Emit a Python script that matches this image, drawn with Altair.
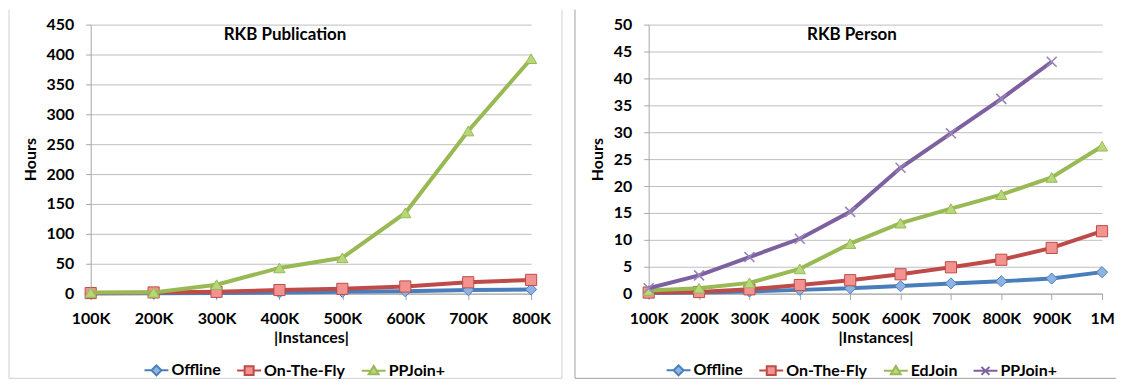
import altair as alt
import pandas as pd

FONT = "Lato"

# ---- data: RKB Publication ----
cats_pub = ["100K", "200K", "300K", "400K", "500K", "600K", "700K", "800K"]
series_pub = ["Offline", "On-The-Fly", "PPJoin+"]
pub_offline = [0.3, 0.5, 1, 2, 3, 4, 6, 7]
pub_otf = [1, 2, 3, 6, 8, 12, 19, 23]
pub_ppjoin = [2, 2, 15, 43, 60, 135, 272, 393]

# ---- data: RKB Person ----
cats_per = ["100K", "200K", "300K", "400K", "500K", "600K", "700K", "800K", "900K", "1M"]
series_per = ["Offline", "On-The-Fly", "EdJoin", "PPJoin+"]
per_offline = [0.1, 0.2, 0.4, 0.7, 1.0, 1.4, 1.9, 2.3, 2.8, 4.0]
per_otf = [0.2, 0.3, 0.8, 1.6, 2.5, 3.6, 4.9, 6.3, 8.5, 11.6]
per_edjoin = [0.6, 1.0, 2.0, 4.6, 9.3, 13.1, 15.8, 18.4, 21.6, 27.4]
per_ppjoin = [1.0, 3.4, 6.8, 10.2, 15.2, 23.4, 29.8, 36.2, 43.1, None]

# ---- styles ----
BLUE, BLUE_F = "#4A7EBB", "#8DB3E2"
RED, RED_F = "#BE4B48", "#F2938F"
GREEN, GREEN_F = "#98B954", "#B8D77B"
PURPLE, PURPLE_F = "#7D60A0", "#9A84BA"

X_PATH = "M-1,-1L1,1M-1,1L1,-1"
LEG_DIAMOND = "M-1.2,0H-0.5M0.5,0H1.2M0,-0.5L0.5,0L0,0.5L-0.5,0Z"
LEG_SQUARE = "M-1.2,0H-0.45M0.45,0H1.2M-0.45,-0.45H0.45V0.45H-0.45Z"
LEG_TRI = "M-1.2,0H-0.3M0.3,0H1.2M0,-0.5L0.5,0.35H-0.5Z"
LEG_X = "M-1.2,0H1.2M-0.4,-0.4L0.4,0.4M-0.4,0.4L0.4,-0.4"

W_PUB, W_PER, H = 442, 455, 270


def panel(title, title_x, cats, names, values, line_cols, fill_cols, shapes,
          leg_paths, ymax, ystep, width, legend_x, frame_l, frame_r, right_line,
          frame_col):
    rows = []
    for n, vals in zip(names, values):
        for i, (c, v) in enumerate(zip(cats, vals)):
            if v is not None:
                rows.append({"cat": c, "idx": i, "series": n, "hours": v})
    df = pd.DataFrame(rows)

    x = alt.X("cat:N", sort=cats, scale=alt.Scale(type="point", padding=0),
              axis=alt.Axis(title="|Instances|", labelAngle=0, grid=False,
                            tickSize=6, labelPadding=11, titlePadding=3))
    y = alt.Y("hours:Q", scale=alt.Scale(domain=[0, ymax], nice=False),
              axis=alt.Axis(title="Hours", values=list(range(0, ymax + 1, ystep)),
                            grid=True, tickSize=5, labelPadding=12, titlePadding=8))
    stroke_scale = alt.Scale(domain=names, range=line_cols)
    base = alt.Chart(df)

    leg = alt.Legend(title=None, orient="none", legendX=legend_x, legendY=336,
                     direction="horizontal", columns=len(names), symbolSize=400,
                     symbolStrokeWidth=2, symbolOpacity=1, labelFont=FONT,
                     labelFontSize=16, labelFontWeight="bold", labelColor="#000000",
                     labelOffset=4, columnPadding=12)
    # invisible layer that carries the legend (first so its legend settings win)
    layers = [base.mark_point(filled=True, opacity=0).encode(
        x=x, y=y,
        shape=alt.Shape("series:N", scale=alt.Scale(domain=names, range=leg_paths), legend=leg),
        fill=alt.Fill("series:N", scale=alt.Scale(domain=names, range=fill_cols), legend=leg),
        stroke=alt.Stroke("series:N", scale=stroke_scale, legend=leg))]

    for n, lc, fc, shp in zip(names, line_cols, fill_cols, shapes):
        sub = base.transform_filter(alt.datum.series == n)
        layers.append(sub.mark_line(strokeWidth=4).encode(
            x=x, y=y, order="idx:Q",
            stroke=alt.Stroke("series:N", scale=stroke_scale)))
        if shp == "x":
            layers.append(sub.mark_point(shape=X_PATH, size=100, filled=False,
                                         stroke=fc, strokeWidth=1.6, opacity=1).encode(x=x, y=y))
        else:
            layers.append(sub.mark_point(shape=shp, size=125, filled=True, fill=fc,
                                         stroke=lc, strokeWidth=1, opacity=1).encode(x=x, y=y))

    one = alt.Chart(pd.DataFrame({"k": [0]}))
    layers.append(one.mark_text(text=title, font=FONT, fontSize=17, fontWeight="bold",
                                color="#000000", align="center", baseline="middle").encode(
        x=alt.value(title_x), y=alt.value(10)))
    layers.append(one.mark_rule(color=frame_col, strokeWidth=1).encode(
        x=alt.value(frame_l), y=alt.value(-15), y2=alt.value(H + 85)))
    if right_line:
        layers.append(one.mark_rule(color=frame_col, strokeWidth=1).encode(
            x=alt.value(frame_r), y=alt.value(-15), y2=alt.value(H + 85)))
    layers.append(one.mark_rule(color=frame_col, strokeWidth=1).encode(
        x=alt.value(frame_l), x2=alt.value(frame_r), y=alt.value(H + 85)))

    return alt.layer(*layers).properties(width=width, height=H)


left = panel("RKB Publication", 195, cats_pub, series_pub,
             [pub_offline, pub_otf, pub_ppjoin],
             [BLUE, RED, GREEN], [BLUE_F, RED_F, GREEN_F],
             ["diamond", "square", "triangle-up"],
             [LEG_DIAMOND, LEG_SQUARE, LEG_TRI],
             450, 50, W_PUB, 55, -82, W_PUB + 31, True, "#D0D0D0")

right = panel("RKB Person", 204, cats_per, series_per,
              [per_offline, per_otf, per_edjoin, per_ppjoin],
              [BLUE, RED, GREEN, PURPLE], [BLUE_F, RED_F, GREEN_F, PURPLE_F],
              ["diamond", "square", "triangle-up", "x"],
              [LEG_DIAMOND, LEG_SQUARE, LEG_TRI, LEG_X],
              50, 5, W_PER, 19, -74, W_PER + 14, False, "#A0A0A0")

chart = alt.hconcat(left, right, spacing=11).resolve_scale(
    x="independent", y="independent", stroke="independent",
    fill="independent", shape="independent"
).resolve_legend(stroke="independent", fill="independent", shape="independent"
).properties(padding=0).configure_view(stroke=None).configure_axis(
    labelFont=FONT, labelFontSize=16, labelFontWeight="bold", labelColor="#000000",
    titleFont=FONT, titleFontSize=16, titleFontWeight="bold", titleColor="#000000",
    domainColor="#A6A6A6", tickColor="#A6A6A6", gridColor="#BFBFBF", gridWidth=1
)

chart.save("out.html", embed_options={"renderer": "svg", "actions": False})
